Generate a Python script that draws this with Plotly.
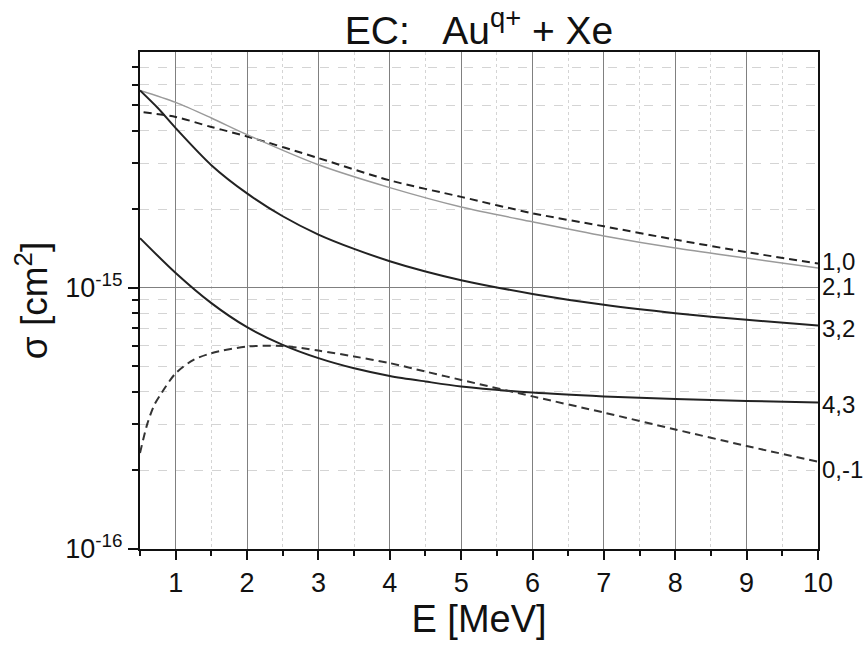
import math
import plotly.graph_objects as go

# ---- data ----
E_10 = [0.55, 1, 1.5, 2, 3, 4, 5, 6, 7, 8, 9, 10]
S_10 = [4.70e-15, 4.51e-15, 4.13e-15, 3.80e-15, 3.14e-15, 2.58e-15,
        2.23e-15, 1.93e-15, 1.72e-15, 1.53e-15, 1.37e-15, 1.24e-15]

E_21 = [0.5, 1, 1.5, 2, 3, 4, 5, 6, 7, 8, 9, 10]
S_21 = [5.70e-15, 5.13e-15, 4.47e-15, 3.86e-15, 2.96e-15, 2.42e-15, 2.04e-15,
        1.79e-15, 1.58e-15, 1.42e-15, 1.30e-15, 1.19e-15]

E_32 = [0.5, 0.75, 1, 1.5, 2, 2.5, 3, 3.5, 4, 4.5, 5, 6, 7, 8, 9, 10]
S_32 = [5.70e-15, 4.88e-15, 4.09e-15, 2.95e-15, 2.30e-15, 1.88e-15, 1.60e-15,
        1.41e-15, 1.265e-15, 1.155e-15, 1.07e-15, 0.948e-15, 0.861e-15,
        0.80e-15, 0.754e-15, 0.717e-15]

E_43 = [0.5, 1, 1.5, 2, 2.5, 3, 3.5, 4, 4.5, 5, 6, 7, 8, 9, 10]
S_43 = [1.55e-15, 1.14e-15, 0.874e-15, 0.707e-15, 0.605e-15, 0.538e-15,
        0.492e-15, 0.460e-15, 0.438e-15, 0.419e-15, 0.397e-15, 0.384e-15,
        0.375e-15, 0.369e-15, 0.364e-15]

E_0m1 = [0.5, 0.6, 0.7, 0.8, 1, 1.25, 1.5, 2, 2.5, 3, 3.5, 4, 4.5, 5, 6, 7, 8, 9, 10]
S_0m1 = [0.233e-15, 0.30e-15, 0.356e-15, 0.395e-15, 0.471e-15, 0.530e-15,
         0.562e-15, 0.596e-15, 0.599e-15, 0.575e-15, 0.546e-15, 0.515e-15,
         0.478e-15, 0.444e-15, 0.384e-15, 0.333e-15, 0.287e-15, 0.248e-15,
         0.216e-15]

curve_labels = ["1,0", "2,1", "3,2", "4,3", "0,-1"]
label_y = [1.259e-15, 1.009e-15, 0.697e-15, 0.356e-15, 0.201e-15]

x_ticks = [1, 2, 3, 4, 5, 6, 7, 8, 9, 10]
x_minor = [0.5, 1.5, 2.5, 3.5, 4.5, 5.5, 6.5, 7.5, 8.5, 9.5]
y_ticks = [1e-16, 1e-15]
y_ticktext = ["10<sup>-16</sup>", "10<sup>-15</sup>"]
y_minor = [2e-16, 3e-16, 4e-16, 5e-16, 6e-16, 7e-16, 8e-16, 9e-16,
           2e-15, 3e-15, 4e-15, 5e-15, 6e-15, 7e-15]

FONT = "Liberation Sans, Arial, sans-serif"

fig = go.Figure()
fig.add_trace(go.Scatter(x=E_10, y=S_10, mode="lines", line=dict(color="#222", width=2, dash="8px,5px", shape="spline", smoothing=0.8)))
fig.add_trace(go.Scatter(x=E_21, y=S_21, mode="lines", line=dict(color="#9a9a9a", width=1.5, shape="spline", smoothing=0.8)))
fig.add_trace(go.Scatter(x=E_32, y=S_32, mode="lines", line=dict(color="#222", width=2, shape="spline", smoothing=0.8)))
fig.add_trace(go.Scatter(x=E_43, y=S_43, mode="lines", line=dict(color="#222", width=2, shape="spline", smoothing=0.8)))
fig.add_trace(go.Scatter(x=E_0m1, y=S_0m1, mode="lines", line=dict(color="#333", width=2, dash="8px,5px", shape="spline", smoothing=0.8)))

for lab, yv in zip(curve_labels, label_y):
    fig.add_annotation(x=1, xref="paper", xanchor="left", xshift=2,
                       y=math.log10(yv), yref="y", yanchor="middle",
                       text=lab, showarrow=False,
                       font=dict(family=FONT, size=24, color="#111"))

fig.update_layout(
    width=864, height=652,
    margin=dict(l=140, r=46, t=52, b=103),
    paper_bgcolor="white", plot_bgcolor="white",
    showlegend=False,
    title=dict(text="EC:\u00a0\u00a0\u00a0Au<sup>q+</sup> + Xe", x=0.5 * (140 + 818) / 864, xanchor="center",
               y=1 - 30 / 652, yanchor="middle", font=dict(family=FONT, size=39, color="#111")),
    font=dict(family=FONT, color="#111"),
)

fig.update_xaxes(
    range=[0.5, 10], tickvals=x_ticks, ticks="outside", ticklen=9, tickwidth=2, tickcolor="#111",
    tickfont=dict(family=FONT, size=27, color="#111"),
    showline=True, linecolor="#111", linewidth=2, mirror=True,
    showgrid=True, gridcolor="#808080", gridwidth=1, zeroline=False,
    minor=dict(tickvals=x_minor, ticks="outside", ticklen=5, tickwidth=2, tickcolor="#111",
               showgrid=True, gridcolor="#d4d4d4", griddash="dot", gridwidth=1),
    title=dict(text="E [MeV]", font=dict(family=FONT, size=38, color="#111"), standoff=8),
)
fig.update_yaxes(
    type="log", range=[-16, math.log10(8e-15)], tickvals=y_ticks, ticktext=y_ticktext,
    ticks="outside", ticklen=10, tickwidth=2, tickcolor="#111",
    tickfont=dict(family=FONT, size=27, color="#111"),
    showline=True, linecolor="#111", linewidth=2, mirror=True,
    showgrid=True, gridcolor="#808080", gridwidth=1, zeroline=False,
    minor=dict(tickvals=y_minor, ticks="outside", ticklen=6, tickwidth=2, tickcolor="#111",
               showgrid=True, gridcolor="#d4d4d4", griddash="dash", gridwidth=1),
    title=dict(text="σ [cm<sup>2</sup>]", font=dict(family=FONT, size=37, color="#111"), standoff=6),
)

fig.write_html("out.html")
